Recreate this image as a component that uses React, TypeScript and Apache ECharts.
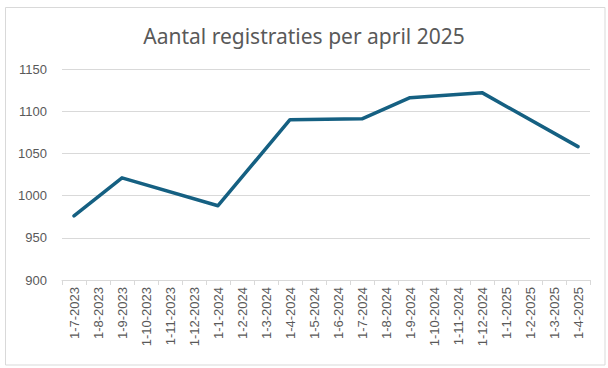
import React, { useEffect, useRef } from "react";
import * as echarts from "echarts";

const title = "Aantal registraties per april 2025";
const categories = [
  "1-7-2023", "1-8-2023", "1-9-2023", "1-10-2023", "1-11-2023", "1-12-2023",
  "1-1-2024", "1-2-2024", "1-3-2024", "1-4-2024", "1-5-2024", "1-6-2024",
  "1-7-2024", "1-8-2024", "1-9-2024", "1-10-2024", "1-11-2024", "1-12-2024",
  "1-1-2025", "1-2-2025", "1-3-2025", "1-4-2025",
];
const values: (number | null)[] = [
  976, null, 1021, null, null, null,
  988, null, null, 1090, null, null,
  1091, null, 1116, null, null, 1122,
  null, null, null, 1058,
];
const yMin = 900;
const yMax = 1150;
const yStep = 50;

export default function App() {
  const ref = useRef<HTMLDivElement>(null);
  useEffect(() => {
    if (!ref.current) return;
    const chart = echarts.init(ref.current, null, { renderer: "svg" });
    const font = "'Liberation Sans', Arial, sans-serif";
    chart.setOption({
      animation: false,
      backgroundColor: "#ffffff",
      graphic: [
        {
          type: "rect",
          shape: { x: 5.5, y: 7.5, width: 599.5, height: 357.5 },
          style: { fill: "none", stroke: "#d9d9d9", lineWidth: 1 },
          silent: true,
        },
      ],
      title: {
        text: title,
        left: "center",
        top: 20,
        textStyle: {
          fontFamily: "'Noto Sans', sans-serif",
          fontSize: 21,
          fontWeight: "normal",
          color: "#595959",
        },
      },
      grid: { left: 62, right: 18, top: 69, bottom: 88, containLabel: false },
      xAxis: {
        type: "category",
        data: categories,
        boundaryGap: true,
        axisLine: { lineStyle: { color: "#d9d9d9" } },
        axisTick: { show: true, length: 5, lineStyle: { color: "#d9d9d9" } },
        axisLabel: {
          rotate: 90,
          interval: 0,
          color: "#595959",
          fontSize: 13,
          fontFamily: font,
          margin: 7,
        },
      },
      yAxis: {
        type: "value",
        min: yMin,
        max: yMax,
        interval: yStep,
        axisLine: { show: false },
        axisTick: { show: false },
        splitLine: { lineStyle: { color: "#d9d9d9" } },
        axisLabel: {
          color: "#595959",
          fontSize: 13,
          fontFamily: font,
          margin: 15,
          formatter: (v: number) => String(v),
        },
      },
      series: [
        {
          type: "line",
          data: values,
          connectNulls: true,
          showSymbol: false,
          symbol: "none",
          lineStyle: { color: "#156082", width: 3.5, cap: "round", join: "round" },
        },
      ],
    });
    return () => chart.dispose();
  }, []);
  return (
    <div
      ref={ref}
      style={{ position: "fixed", left: 0, top: 0, width: 608, height: 368 }}
    />
  );
}
